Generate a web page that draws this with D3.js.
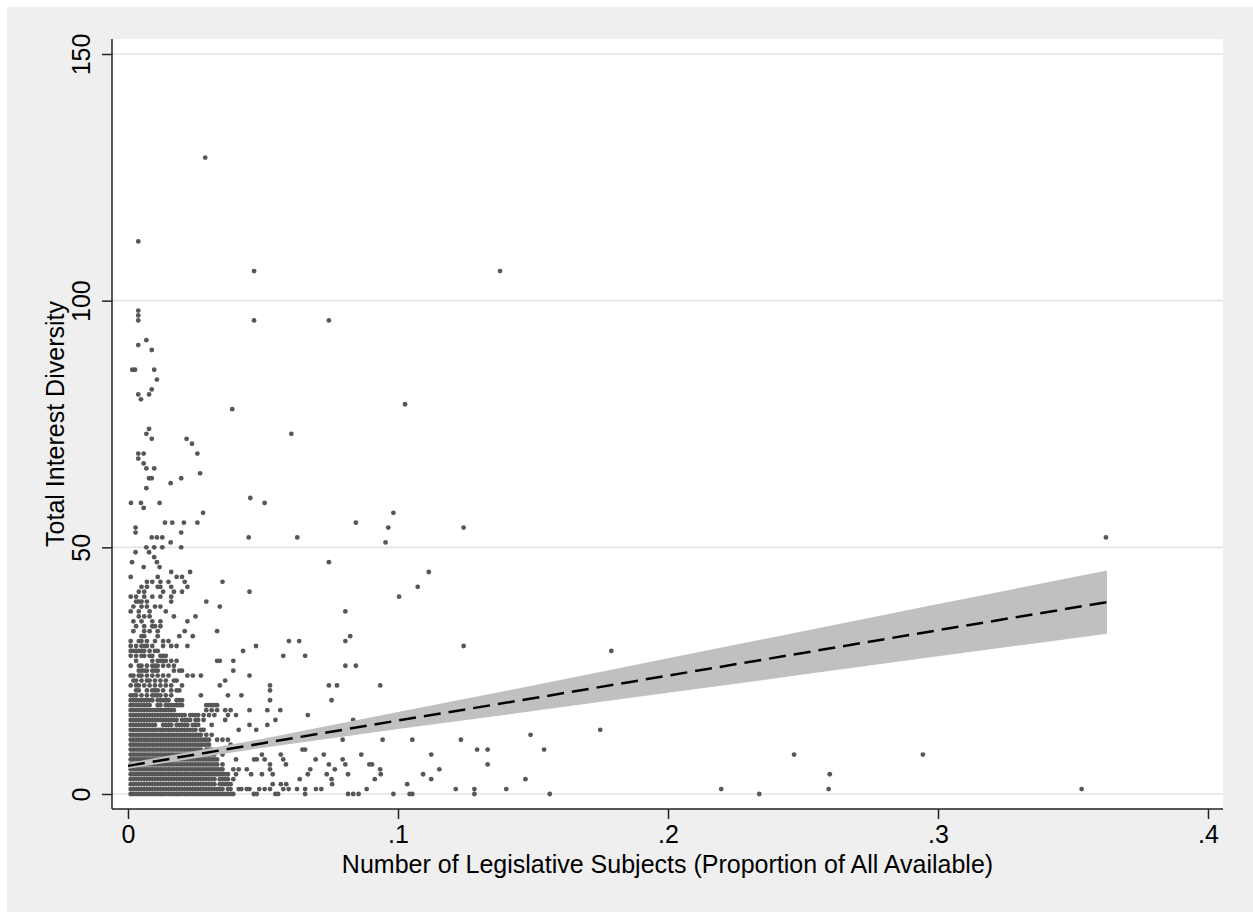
<!DOCTYPE html>
<html>
<head>
<meta charset="utf-8">
<script src="https://cdn.jsdelivr.net/npm/d3@7"></script>
<style>
  body { margin: 0; background: #fff; }
  svg text { font-family: "Liberation Sans", Arial, Helvetica, sans-serif; fill: #000; }
</style>
</head>
<body>
<svg id="chart" width="1253" height="912"></svg>
<script>
const xTicks = [0, 0.1, 0.2, 0.3, 0.4];
const xTickLabels = ["0", ".1", ".2", ".3", ".4"];
const yTicks = [0, 50, 100, 150];
const xTitle = "Number of Legislative Subjects (Proportion of All Available)";
const yTitle = "Total Interest Diversity";

// dense cluster by the origin: one string per integer y value,
// each character is one step of clusterStep on x ('#' = a point, spaces only for reading)
const clusterStep = 0.001;
const clusterRows = [
  [45, ".......... ......#... ...#...... .......... ......"],
  [44, ".#........ .#......#. #......... .......... ......"],
  [43, ".......#.# ..#..#.... .#........ .....#.... ......"],
  [42, ".....#.#.. .##...#... ..#....... .......... ......"],
  [41, "....#.#... ...#...#.. #......... .......... .....#"],
  [40, ".#.#..#..# ..#...#... .......... .......... ......"],
  [39, "...###.#.. ......#... .........# .......... ......"],
  [38, "..#..#.#.. #.#....... .......... ....#..... ......"],
  [37, ".#..#...#. ....#..... .......... .......... ......"],
  [36, "....#.#.#. .......#.. .....#.... .......... ......"],
  [35, "..#..#...# ..#....... ..#....... .......... ......"],
  [34, "...#..#..# #.#....... .......... .......... ......"],
  [33, "..#...#.#. .#........ .#........ ...#...... ......"],
  [32, ".....##... .#.......# ....#..... .......... ......"],
  [31, ".#..##.#.. #..#.#.... .......... .......... ......"],
  [30, ".#.#.###.# ...#..#.#. ..#....... .......... ......"],
  [29, ".######.#. ##........ .......... .......... ......"],
  [28, ".#.#.##.## ..###..... .......... .......... ......"],
  [27, "...#.....# .####.#.#. .......... ...##....# ......"],
  [26, ".#..##.#.# ##.#.#.#.. .......... .......... ......"],
  [25, "....####.# ##.....#.# #......... .........# ......"],
  [24, ".##.##.#.# .#.#.#.... ..#.#..#.. .......... .....#"],
  [23, "..##.#.##. #.#.#..##. .......... ......#... ......"],
  [22, ".#.##.#.#. #.#.#.#... #......... ....#..... ......"],
  [21, "...##..#.# ##.#..#.## .......... .......... ......"],
  [20, ".###.#.#.# ###.#.#... .......#.. .......#.. ..#..."],
  [19, ".######### .#####..## #......... .......... ......"],
  [18, ".########. .##.###### #........# ####...... ......"],
  [17, ".######### ########.. .........# .#.#..#.#. .....#"],
  [16, ".######### ########## ##.####.#. #.#....#.. #....."],
  [15, ".######### #########. ####.##.#. ......#... ......"],
  [14, ".######### #..####.## ###.###... .#........ .....#"],
  [13, ".######### ########## ######.##. .......... .#...."],
  [12, ".######### ########## ########.# .#........ ......"],
  [11, ".######### ########## ########## #..#.#.#.. ......"],
  [10, ".######### ########## ########## #.......#. ......"],
  [9,  ".######### ########## ########.# ##........ ......"],
  [8,  ".######### ########## ########## ###..#.... ......"],
  [7,  ".######### ########## ########## ####...... #....."],
  [6,  ".######### ########## ########## ####.#.... ......"],
  [5,  ".######### ########## ########## ######...# .#..#."],
  [4,  ".######### ########## ########## ########.. #....."],
  [3,  ".######### ########## ########## ###.####.# ......"],
  [2,  ".######### ########## ########## ###.#####. ......"],
  [1,  ".######### ########## ########## ######.##. .##.##"],
  [0,  ".######### ########## ########## ########## ......"]
];

// points outside the cluster, [proportion, diversity]
const upperPoints = [
  [0.0286, 129], [0.0038, 112], [0.0467, 106], [0.1378, 106],
  [0.0038, 98], [0.0038, 97], [0.0038, 96], [0.0467, 96], [0.0744, 96],
  [0.0068, 92], [0.0038, 91], [0.0088, 90], [0.0016, 86], [0.0026, 86], [0.0097, 86],
  [0.0107, 84], [0.0088, 82], [0.0038, 81], [0.0078, 81], [0.0048, 80], [0.1026, 79], [0.0386, 78],
  [0.0078, 74], [0.0068, 73], [0.0605, 73], [0.0088, 72], [0.0217, 72], [0.0237, 71],
  [0.0038, 69], [0.0058, 69], [0.0257, 69], [0.0038, 68], [0.0058, 67], [0.0068, 66], [0.0097, 66],
  [0.0267, 65], [0.0078, 64], [0.0088, 64], [0.0197, 64], [0.0158, 63], [0.0068, 62],
  [0.0453, 60], [0.0011, 59], [0.0048, 59], [0.0117, 59], [0.0506, 59], [0.0058, 58],
  [0.0278, 57], [0.0983, 57], [0.0137, 55], [0.0164, 55], [0.0207, 55], [0.0257, 55], [0.0844, 55],
  [0.0028, 54], [0.0964, 54], [0.1243, 54], [0.0028, 53], [0.0197, 53],
  [0.0088, 52], [0.0107, 52], [0.0127, 52], [0.0447, 52], [0.0627, 52], [0.3622, 52],
  [0.0158, 51], [0.0954, 51], [0.0068, 50], [0.0097, 50], [0.0127, 50], [0.0197, 50],
  [0.0028, 49], [0.0078, 49], [0.0097, 48], [0.0015, 47], [0.0107, 47], [0.0744, 47],
  [0.0058, 46], [0.0117, 46]
];

const lowerPoints = [
  [0.1114, 45], [0.1073, 42], [0.1004, 40], [0.0805, 37], [0.0823, 32],
  [0.0596, 31], [0.0634, 31], [0.0805, 31], [0.0474, 30], [0.1243, 30],
  [0.0426, 29], [0.179, 29], [0.0575, 28], [0.0656, 28], [0.0805, 26], [0.0844, 26],
  [0.0526, 22], [0.0744, 22], [0.0774, 22], [0.0934, 22], [0.0526, 21],
  [0.0526, 19], [0.0754, 19], [0.0516, 17], [0.0564, 17], [0.0666, 16],
  [0.0546, 15], [0.0834, 15], [0.0516, 14], [0.0475, 13], [0.0804, 13], [0.1749, 13],
  [0.1491, 12], [0.0795, 11], [0.0943, 11], [0.1053, 11], [0.1233, 11],
  [0.0646, 9], [0.0656, 9], [0.1293, 9], [0.1332, 9], [0.1541, 9],
  [0.0496, 8], [0.0566, 8], [0.0725, 8], [0.0864, 8], [0.1123, 8], [0.2467, 8], [0.2944, 8],
  [0.0467, 7], [0.0477, 7], [0.0506, 7], [0.0575, 7], [0.0695, 7], [0.0795, 7],
  [0.0526, 6], [0.0585, 6], [0.0744, 6], [0.0805, 6], [0.0894, 6], [0.0904, 6], [0.1332, 6],
  [0.0526, 5], [0.0675, 5], [0.0766, 5], [0.0934, 5], [0.1153, 5],
  [0.0456, 4], [0.0496, 4], [0.0536, 4], [0.0666, 4], [0.0736, 4], [0.0815, 4], [0.0936, 4], [0.1093, 4], [0.2599, 4],
  [0.0636, 3], [0.0754, 3], [0.0914, 3], [0.1123, 3], [0.1472, 3],
  [0.0536, 2], [0.0566, 2], [0.0586, 2], [0.0756, 2], [0.1034, 2],
  [0.0486, 1], [0.0506, 1], [0.0526, 1], [0.0575, 1], [0.0595, 1], [0.0626, 1], [0.0656, 1],
  [0.0696, 1], [0.0716, 1], [0.0884, 1], [0.1214, 1], [0.1283, 1], [0.1401, 1], [0.2197, 1], [0.2595, 1], [0.3532, 1],
  [0.0466, 0], [0.0477, 0], [0.0546, 0], [0.0556, 0], [0.0656, 0], [0.0815, 0], [0.0834, 0], [0.0854, 0],
  [0.0983, 0], [0.1043, 0], [0.1053, 0], [0.1283, 0], [0.1562, 0], [0.2338, 0]
];

// linear fit and its confidence band
const fitX = [0, 0.05, 0.1, 0.15, 0.2, 0.25, 0.3, 0.3626];
const fitY = [5.7, 10.3, 14.9, 19.4, 24.0, 28.6, 33.2, 38.9];
const ciLow = [5.1, 9.4, 13.2, 16.8, 20.5, 24.2, 27.9, 32.5];
const ciHigh = [6.3, 11.2, 16.6, 22.0, 27.5, 33.0, 38.5, 45.3];

const W = 1253, H = 912;
const plot = { left: 112, right: 1223, top: 39, bottom: 809 };
const fontSize = 25;

const svg = d3.select("#chart");

const x = d3.scaleLinear().domain([0, 0.4]).range([128, 1208]);
const y = d3.scaleLinear().domain([0, 150]).range([794, 54]);

// background and plot region
svg.append("rect")
    .attr("x", 7).attr("y", 7)
    .attr("width", W - 7).attr("height", H - 7)
    .attr("fill", "#efefef");

svg.append("rect")
    .attr("x", plot.left).attr("y", plot.top)
    .attr("width", plot.right - plot.left).attr("height", plot.bottom - plot.top)
    .attr("fill", "#ffffff");

svg.append("g").selectAll("line")
    .data(yTicks)
    .join("line")
    .attr("x1", plot.left).attr("x2", plot.right)
    .attr("y1", d => y(d)).attr("y2", d => y(d))
    .attr("stroke", "#e4e4e4")
    .attr("stroke-width", 1.6);

// scatter
const clusterPoints = [];
clusterRows.forEach(([yv, row]) => {
    row.replace(/ /g, "").split("").forEach((c, k) => {
        if (c === "#") clusterPoints.push([k * clusterStep, yv]);
    });
});
const allPoints = clusterPoints.concat(upperPoints, lowerPoints);

svg.append("g").selectAll("circle")
    .data(allPoints)
    .join("circle")
    .attr("cx", d => x(d[0]))
    .attr("cy", d => y(d[1]))
    .attr("r", 2.4)
    .attr("fill", "#575757");

// fit band and line
const fitData = fitX.map((v, i) => ({ x: v, fit: fitY[i], lo: ciLow[i], hi: ciHigh[i] }));

svg.append("path")
    .datum(fitData)
    .attr("fill", "#c0c0c0")
    .attr("d", d3.area().x(d => x(d.x)).y0(d => y(d.lo)).y1(d => y(d.hi)));

svg.append("path")
    .datum(fitData)
    .attr("fill", "none")
    .attr("stroke", "#000")
    .attr("stroke-width", 2.5)
    .attr("stroke-dasharray", "17,8")
    .attr("d", d3.line().x(d => x(d.x)).y(d => y(d.fit)));

// axes
const yAxis = svg.append("g")
    .attr("transform", `translate(${plot.left},0)`)
    .call(d3.axisLeft(y).tickValues(yTicks).tickSize(10).tickFormat(d3.format("d")));
yAxis.select(".domain").remove();
yAxis.selectAll("line").attr("stroke", "#222").attr("stroke-width", 1.5);
yAxis.selectAll("text")
    .attr("x", null).attr("dy", null)
    .attr("text-anchor", "middle")
    .attr("font-size", fontSize)
    .attr("font-family", null)
    .attr("transform", "translate(-22,0) rotate(-90)");

const xAxis = svg.append("g")
    .attr("transform", `translate(0,${plot.bottom})`)
    .call(d3.axisBottom(x).tickValues(xTicks).tickSize(10).tickFormat((d, i) => xTickLabels[i]));
xAxis.select(".domain").remove();
xAxis.selectAll("line").attr("stroke", "#222").attr("stroke-width", 1.5);
xAxis.selectAll("text")
    .attr("y", 34).attr("dy", null)
    .attr("font-size", fontSize)
    .attr("font-family", null);

svg.append("line")
    .attr("x1", plot.left).attr("x2", plot.left)
    .attr("y1", plot.top).attr("y2", plot.bottom)
    .attr("stroke", "#222").attr("stroke-width", 1.5);
svg.append("line")
    .attr("x1", plot.left).attr("x2", plot.right)
    .attr("y1", plot.bottom).attr("y2", plot.bottom)
    .attr("stroke", "#222").attr("stroke-width", 1.5);

// titles
svg.append("text")
    .attr("x", (plot.left + plot.right) / 2)
    .attr("y", 873)
    .attr("text-anchor", "middle")
    .attr("font-size", fontSize)
    .text(xTitle);

svg.append("text")
    .attr("transform", `translate(64,${(plot.top + plot.bottom) / 2}) rotate(-90)`)
    .attr("text-anchor", "middle")
    .attr("font-size", fontSize)
    .text(yTitle);
</script>
</body>
</html>
